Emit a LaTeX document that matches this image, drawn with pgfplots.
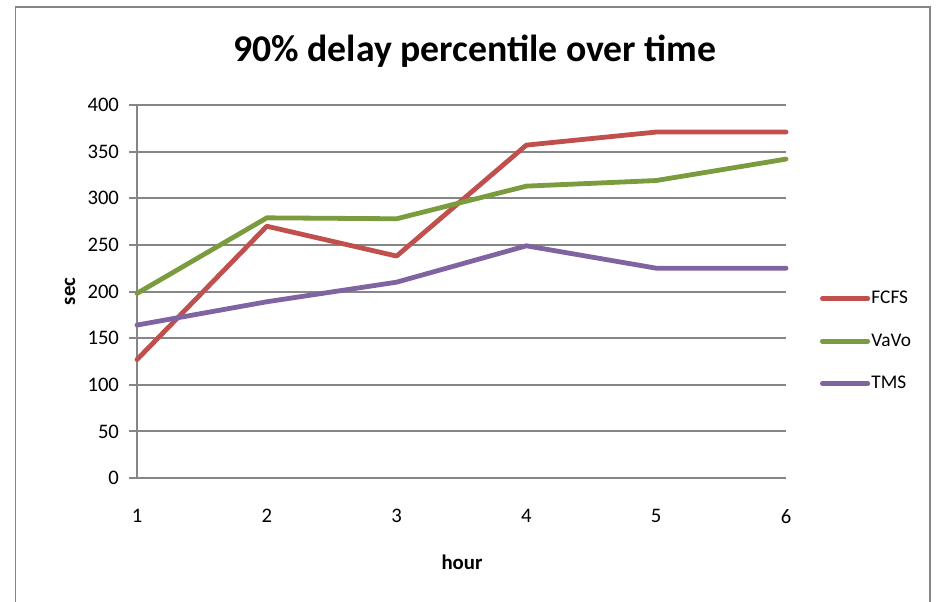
\documentclass[border=0pt]{standalone}
\usepackage{pgfplots}
\pgfplotsset{compat=1.18}
\usepackage{fontspec}
\setmainfont{Carlito}
\definecolor{cRed}{RGB}{192,80,77}
\definecolor{cGreen}{RGB}{122,155,62}
\definecolor{cPurple}{RGB}{128,100,162}
\definecolor{gridgray}{RGB}{134,134,134}
\begin{document}
\begin{tikzpicture}
\path[use as bounding box] (0,0) rectangle (702.75pt,450.75pt);
\draw[gridgray, line width=1.2pt] (11.5pt,-2pt) -- (11.5pt,445.5pt) -- (697.5pt,445.5pt) -- (697.5pt,-2pt);
\begin{axis}[
  at={(102.75pt,92.25pt)}, anchor=south west,
  scale only axis, width=486.75pt, height=279.75pt,
  xmin=1, xmax=6, ymin=0, ymax=400,
  xtick={1,2,3,4,5,6}, ytick={0,50,...,400},
  axis x line=bottom, axis y line=left,
  axis line style={-, gridgray, line width=1.5pt},
  ymajorgrids, grid style={gridgray, line width=1.5pt},
  tick align=outside, major tick length=6pt,
  xtick style={draw=none}, ytick style={gridgray, line width=1.5pt},
  ticklabel style={font=\fontsize{15.5}{18}\selectfont},
  /pgf/number format/assume math mode=true,
  xticklabel style={yshift=-14pt},
  yticklabel style={xshift=-4pt},
  clip=false,
  title={90\% delay percentile over time},
  title style={at={(axis description cs:0.5208,1.0965)}, anchor=base, font=\bfseries\fontsize{28.3}{32}\selectfont, inner sep=0pt},
  xlabel={hour},
  xlabel style={at={(axis description cs:0.5008,-0.2466)}, anchor=base, font=\bfseries\fontsize{15.6}{18}\selectfont, inner sep=0pt},
  ylabel={sec},
  ylabel style={at={(axis description cs:-0.1032,0.50)}, anchor=center, font=\bfseries\fontsize{15.6}{18}\selectfont, inner sep=0pt},
  legend style={at={(axis description cs:1.0524,0.367)}, anchor=west, draw=none, fill=none, inner sep=0pt, outer sep=0pt, row sep=19pt, font=\fontsize{14.5}{17}\selectfont, nodes={inner sep=1pt}},
  legend cell align=left,
  legend image code/.code={\draw[#1] (0pt,0pt) -- (34pt,0pt);},
  every axis plot/.append style={line width=3.6pt, line cap=round, line join=round},
]
\addplot[cRed] coordinates {(1,127) (2,270) (3,238) (4,357) (5,371) (6,371)};
\addlegendentry{FCFS}
\addplot[cGreen] coordinates {(1,198) (2,279) (3,278) (4,313) (5,319) (6,342)};
\addlegendentry{VaVo}
\addplot[cPurple] coordinates {(1,164) (2,189) (3,210) (4,249) (5,225) (6,225)};
\addlegendentry{TMS}
\end{axis}
\end{tikzpicture}
\end{document}
